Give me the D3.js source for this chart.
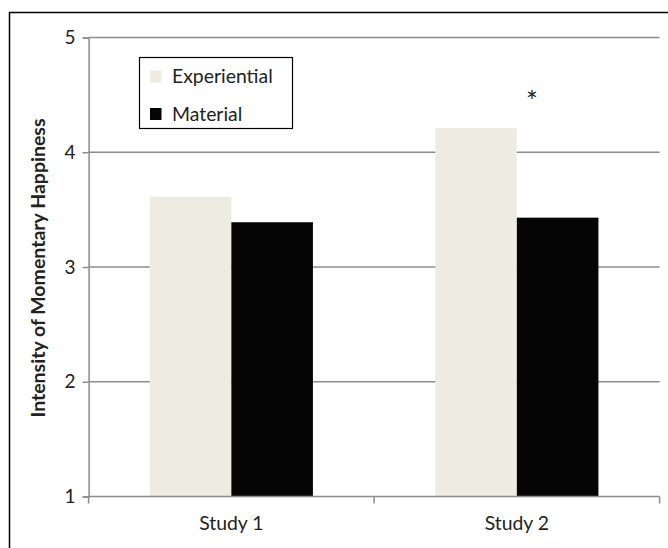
<!DOCTYPE html>
<html><head><meta charset="utf-8">
<script src="https://cdn.jsdelivr.net/npm/d3@7"></script>
<style>body{margin:0;background:#fff}svg{display:block}text{font-family:Lato,"Open Sans",sans-serif}</style>
</head><body><svg id="c" width="668" height="548"></svg>
<script>
const categories = ["Study 1", "Study 2"];
const seriesNames = ["Experiential", "Material"];
const experiential = [3.61, 4.21];
const material = [3.39, 3.43];
const yTicks = [1, 2, 3, 4, 5];
const colors = ["#eeebe1", "#050505"];

(function () {
const svg = d3.select("#c");
svg.append("rect").attr("x", 9.5).attr("y", 12.5).attr("width", 670).attr("height", 560)
  .attr("fill", "none").attr("stroke", "#000").attr("stroke-width", 1.5);

const mLeft = 88.6, mRight = 659.6, mTop = 37.5, mBottom = 496.5;
const x = d3.scaleBand().domain(categories).range([mLeft, mRight]).paddingInner(0).paddingOuter(0);
const x1 = d3.scaleBand().domain(seriesNames).range([0, x.bandwidth()]).paddingInner(0).paddingOuter(0.75);
const y = d3.scaleLinear().domain([1, 5]).range([mBottom, mTop]);

// gridlines
svg.append("g").selectAll("line").data(yTicks.slice(1)).join("line")
  .attr("x1", mLeft).attr("x2", mRight).attr("y1", d => y(d)).attr("y2", d => y(d))
  .attr("stroke", "#8c8c8c").attr("stroke-width", 1.5);

// bars
const data = categories.map((c, i) => ({c, vals: [experiential[i], material[i]]}));
const g = svg.append("g");
data.forEach(d => {
  d.vals.forEach((v, j) => {
    g.append("rect").attr("x", x(d.c) + x1(seriesNames[j])).attr("y", y(v))
      .attr("width", x1.bandwidth()).attr("height", y(1) - y(v)).attr("fill", colors[j]);
  });
});

// y axis
const yAxis = d3.axisLeft(y).tickValues(yTicks).tickFormat(d3.format("d")).tickSize(6).tickPadding(7);
const ya = svg.append("g").attr("transform", `translate(${mLeft},0)`).call(yAxis);
ya.select(".domain").attr("stroke", "#8c8c8c").attr("stroke-width", 1.5);
ya.selectAll(".tick line").attr("stroke", "#8c8c8c").attr("stroke-width", 1.5);
ya.selectAll(".tick text").attr("font-size", 19).attr("fill", "#222").attr("font-family", "Lato");

// x axis
const xa = svg.append("g").attr("transform", `translate(0,${mBottom})`);
xa.append("line").attr("x1", mLeft).attr("x2", mRight).attr("stroke", "#8c8c8c").attr("stroke-width", 1.5);
const bounds = [mLeft, x(categories[1]), mRight];
xa.selectAll("line.t").data(bounds).join("line").attr("class", "t")
  .attr("x1", d => d).attr("x2", d => d).attr("y1", 0).attr("y2", 7)
  .attr("stroke", "#8c8c8c").attr("stroke-width", 1.5);
xa.selectAll("text").data(categories).join("text")
  .attr("x", d => x(d) + x.bandwidth() / 2).attr("y", 33).attr("text-anchor", "middle")
  .attr("font-size", 19.4).attr("fill", "#222").text(d => d);

// y title
svg.append("text").attr("transform", `translate(44.5,${(115 + 421) / 2}) rotate(-90)`)
  .attr("text-anchor", "middle").attr("font-size", 19.5).attr("font-weight", "bold").attr("fill", "#222")
  .text("Intensity of Momentary Happiness");

// asterisk
svg.append("text").attr("x", x(categories[1]) + x.bandwidth() / 2 + 15).attr("y", 112)
  .attr("text-anchor", "middle").attr("font-size", 28).attr("fill", "#222").text("*");

// legend
const lg = svg.append("g");
lg.append("rect").attr("x", 139.5).attr("y", 57.5).attr("width", 153).attr("height", 71)
  .attr("fill", "#fff").attr("stroke", "#000").attr("stroke-width", 1.2);
seriesNames.forEach((n, i) => {
  lg.append("rect").attr("x", 150).attr("y", 70.5 + i * 37.5).attr("width", 11.5).attr("height", 12)
    .attr("fill", colors[i]);
  lg.append("text").attr("x", 172).attr("y", 83 + i * 37.5).attr("font-size", 19.4).attr("fill", "#222").text(n);
});
})();
</script></body></html>
